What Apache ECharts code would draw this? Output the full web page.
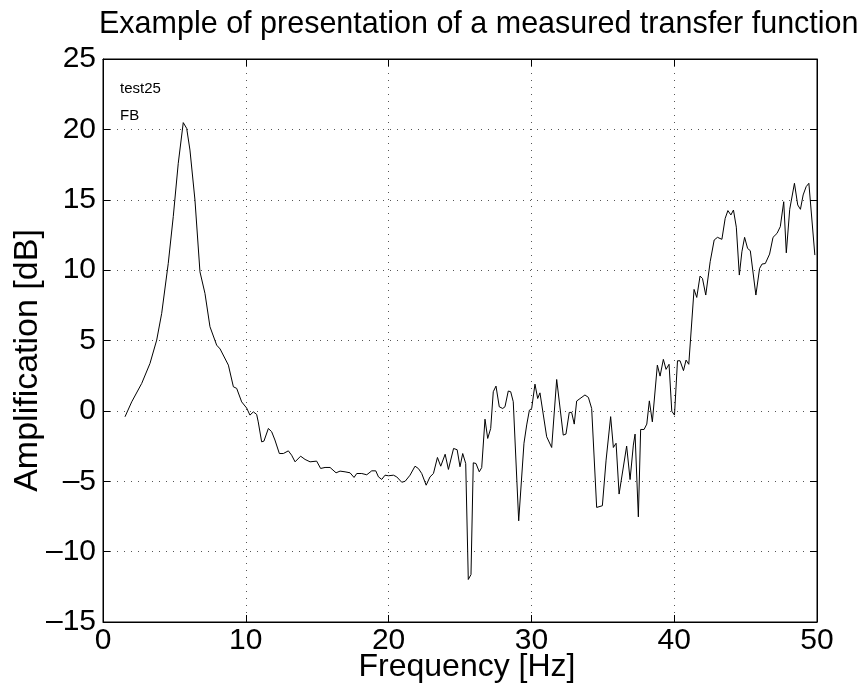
<!DOCTYPE html>
<html>
<head>
<meta charset="utf-8">
<script src="https://cdn.jsdelivr.net/npm/echarts@6/dist/echarts.min.js"></script>
<style>
  html, body { margin: 0; padding: 0; background: #fff; }
  #chart { width: 861px; height: 693px; }
</style>
</head>
<body>
<div id="chart"></div>
<script>
// measured transfer function
const freqHz = [
  1.54, 2.01, 2.71, 3.29, 3.76, 4.11, 4.57, 4.92, 5.27, 5.62, 5.86, 6.09, 6.44, 6.79, 7.14, 7.49,
  7.96, 8.2, 8.78, 9.13, 9.36, 9.71, 10.06, 10.29, 10.53, 10.76, 10.87, 11.11, 11.27, 11.58, 11.81,
  12.04, 12.35, 12.63, 12.98, 13.21, 13.45, 13.84, 14.15, 14.5, 14.96, 15.24, 15.55, 15.9, 16.0,
  16.32, 16.6, 16.95, 17.3, 17.58, 17.77, 18.12, 18.47, 18.82, 19.1, 19.29, 19.52, 19.75, 19.99,
  20.34, 20.57, 20.92, 21.16, 21.5, 21.85, 22.09, 22.32, 22.63, 22.9, 23.14, 23.42, 23.65, 23.96,
  24.19, 24.55, 24.8, 25.0, 25.19, 25.4, 25.58, 25.77, 25.93, 26.12, 26.35, 26.52, 26.75, 26.94,
  27.15, 27.33, 27.52, 27.75, 27.99, 28.15, 28.38, 28.55, 28.73, 29.11, 29.48, 29.67, 29.86, 30.02,
  30.25, 30.44, 30.6, 31.07, 31.42, 31.77, 32.23, 32.42, 32.65, 32.82, 33.0, 33.17, 33.75, 33.99,
  34.22, 34.57, 34.97, 35.23, 35.55, 35.74, 35.93, 36.14, 36.67, 36.91, 37.14, 37.26, 37.49, 37.65,
  37.89, 38.08, 38.26, 38.47, 38.82, 39.01, 39.24, 39.43, 39.64, 39.83, 40.02, 40.23, 40.41, 40.65,
  40.83, 41.02, 41.39, 41.58, 41.81, 41.98, 42.21, 42.52, 42.8, 43.03, 43.34, 43.57, 43.76, 43.97,
  44.15, 44.35, 44.56, 44.74, 44.93, 45.14, 45.33, 45.72, 45.98, 46.15, 46.38, 46.68, 46.92, 47.2,
  47.43, 47.67, 47.85, 48.09, 48.42, 48.65, 48.84, 49.03, 49.24, 49.43, 49.85
];
const amplDb = [
  -0.42, 0.64, 1.95, 3.37, 5.03, 6.93, 10.48, 13.8, 17.59, 20.48, 20.07, 18.53, 14.98, 9.88, 8.35, 5.98,
  4.67, 4.4, 3.25, 1.71, 1.6, 0.64, 0.2, -0.3, -0.07, -0.25, -0.78, -2.2, -2.15, -1.25, -1.48,
  -2.07, -3.03, -3.03, -2.84, -3.15, -3.62, -3.22, -3.45, -3.62, -3.57, -4.09, -4.02, -4.02, -3.93,
  -4.4, -4.28, -4.33, -4.4, -4.73, -4.45, -4.45, -4.54, -4.26, -4.26, -4.69, -4.87, -4.57, -4.61,
  -4.57, -4.69, -5.07, -5.0, -4.57, -3.93, -4.1, -4.45, -5.28, -4.69, -4.45, -3.31, -3.93, -3.08,
  -4.16, -2.67, -2.76, -3.97, -3.03, -3.74, -11.98, -11.63, -3.69, -3.74, -4.33, -4.03, -0.59, -1.96,
  -1.25, 1.36, 1.76, 0.29, 0.17, 0.29, 1.41, 1.36, 0.65, -7.81, -2.3, -1.0, 0.05, 0.17,
  1.9, 0.88, 1.28, -1.84, -2.6, 2.23, -1.72, -1.65, -0.11, -0.11, -0.94, 0.7, 1.13, 0.96,
  0.17, -6.86, -6.74, -3.5, -0.41, -2.6, -2.3, -5.91, -2.5, -4.88, -2.43, -1.65, -7.53, -1.32,
  -1.32, -0.94, 0.71, -0.78, 3.25, 2.47, 3.66, 2.95, 3.31, -0.02, -0.3, 3.56, 3.56, 2.86,
  3.61, 3.31, 8.63, 8.06, 9.58, 9.41, 8.23, 10.6, 12.14, 12.33, 12.19, 13.68, 14.23, 13.92,
  14.27, 13.05, 9.65, 11.3, 12.33, 11.54, 11.38, 8.23, 10.12, 10.43, 10.47, 11.14, 12.33, 12.61,
  13.09, 14.86, 11.23, 14.32, 16.17, 14.63, 14.32, 15.34, 15.93, 16.17, 11.07
];
const xTicks = [0, 10, 20, 30, 40, 50];
const yTicks = [-15, -10, -5, 0, 5, 10, 15, 20, 25];
const labelLines = ['test25', 'FB'];

const font = '"Liberation Sans", Arial, Helvetica, sans-serif';

const chart = echarts.init(document.getElementById('chart'));

const gridDots = { show: true, lineStyle: { color: '#555', width: 1, type: [1, 6] } };
const minus = v => String(v).replace('-', '\u2013');
const inTicks = { show: true, inside: true, length: 7, lineStyle: { color: '#000' } };

chart.setOption({
  animation: false,
  title: {
    text: 'Example of presentation of a measured transfer function',
    left: 94,
    top: 4,
    textStyle: { fontFamily: font, fontSize: 30.5, fontWeight: 'normal', color: '#000' }
  },
  grid: {
    left: 103, top: 59, width: 714, height: 563,
    outerBoundsMode: 'none',
    containLabel: false,
    show: true, borderColor: '#000', borderWidth: 1, backgroundColor: '#fff'
  },
  graphic: labelLines.map((t, i) => ({
    type: 'text',
    left: 120,
    top: 81 + i * 27,
    style: { text: t, fontFamily: font, fontSize: 15, fill: '#000' }
  })),
  xAxis: [{
    type: 'value',
    min: xTicks[0], max: xTicks[xTicks.length - 1], interval: 10,
    name: 'Frequency [Hz]',
    nameLocation: 'middle',
    nameGap: 29,
    nameMoveOverlap: false,
    nameTextStyle: { fontFamily: font, fontSize: 32, color: '#000', padding: [0, 0, 0, 14] },
    axisLine: { show: true, onZero: false, lineStyle: { color: '#000', width: 1 } },
    axisTick: inTicks,
    axisLabel: { fontFamily: font, fontSize: 30, color: '#000', margin: 4 },
    splitLine: gridDots
  }, {
    type: 'value', position: 'top',
    min: xTicks[0], max: xTicks[xTicks.length - 1], interval: 10,
    axisLine: { show: true, onZero: false, lineStyle: { color: '#000' } },
    axisTick: inTicks,
    axisLabel: { show: false },
    splitLine: { show: false }
  }],
  yAxis: [{
    type: 'value',
    min: yTicks[0], max: yTicks[yTicks.length - 1], interval: 5,
    name: 'Amplification [dB]',
    nameLocation: 'middle',
    nameGap: 58,
    nameMoveOverlap: false,
    nameTextStyle: { fontFamily: font, fontSize: 34, color: '#000', padding: [0, 40, 0, 0] },
    axisLine: { show: true, onZero: false, lineStyle: { color: '#000', width: 1 } },
    axisTick: inTicks,
    axisLabel: { fontFamily: font, fontSize: 30, color: '#000', margin: 7, formatter: minus },
    splitLine: gridDots
  }, {
    type: 'value', position: 'right',
    min: yTicks[0], max: yTicks[yTicks.length - 1], interval: 5,
    axisLine: { show: true, onZero: false, lineStyle: { color: '#000' } },
    axisTick: inTicks,
    axisLabel: { show: false },
    splitLine: { show: false }
  }],
  series: [{
    type: 'line',
    data: freqHz.map((f, i) => [f, amplDb[i]]),
    showSymbol: false,
    lineStyle: { color: '#000', width: 1 },
    clip: true
  }]
});
</script>
</body>
</html>
